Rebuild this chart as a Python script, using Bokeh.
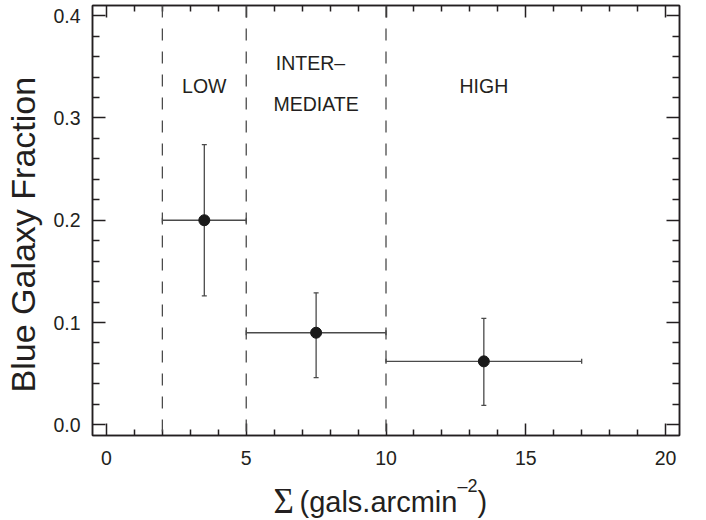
from bokeh.plotting import figure
from bokeh.layouts import column
from bokeh.models import (ColumnDataSource, FixedTicker, LinearAxis, Range1d,
                          Whisker, TeeHead, Label, Span)
from bokeh.core.properties import value
from bokeh.embed import file_html
from bokeh.resources import INLINE

# Surface-density bins (gals per arcmin^2) and the blue fraction in each
bin_lo = [2.0, 5.0, 10.0]
bin_hi = [5.0, 10.0, 17.0]
sigma_mid = [3.5, 7.5, 13.5]
blue_frac = [0.200, 0.090, 0.062]
frac_lo = [0.126, 0.046, 0.019]
frac_hi = [0.274, 0.129, 0.104]

# Boundaries between the density regimes
regime_edges = [2.0, 5.0, 10.0]

x_ticks = [0, 5, 10, 15, 20]
x_tick_labels = ["0", "5", "10", "15", "20"]
x_minor = [v for v in range(0, 21) if v % 5]
y_ticks = [0.0, 0.1, 0.2, 0.3, 0.4]
y_tick_labels = ["0.0", "0.1", "0.2", "0.3", "0.4"]
y_minor = [round(0.02 * k, 2) for k in range(0, 21) if k % 5]

FONT = "Liberation Sans"
INK = "#231f20"
BAR = "#4a4a4a"
W = 706
LEFT, RIGHT = 92, 27

src = ColumnDataSource(dict(x=sigma_mid, y=blue_frac, xlo=bin_lo, xhi=bin_hi,
                            ylo=frac_lo, yhi=frac_hi))

p = figure(width=W, height=475, output_backend="svg", toolbar_location=None,
           x_range=Range1d(-0.5, 20.5), y_range=Range1d(-0.0105, 0.41),
           min_border_left=LEFT, min_border_right=RIGHT, min_border_top=5,
           min_border_bottom=40, x_axis_type=None, y_axis_type=None)
p.grid.visible = False
p.outline_line_color = INK
p.outline_line_width = 1.5
p.border_fill_color = "white"


def style_axis(ax, major_in, minor_in, show_labels):
    ax.axis_line_color = INK
    ax.axis_line_width = 1.5
    ax.major_tick_line_color = INK
    ax.minor_tick_line_color = INK
    ax.major_tick_line_width = 1.5
    ax.minor_tick_line_width = 1.5
    ax.major_tick_in = major_in
    ax.major_tick_out = 0
    ax.minor_tick_in = minor_in
    ax.minor_tick_out = 0
    if show_labels:
        ax.major_label_text_font = FONT
        ax.major_label_text_font_size = "19.5px"
        ax.major_label_text_color = INK
    else:
        # mirrored axis: ticks only
        ax.major_label_text_color = None
        ax.major_label_text_font_size = "1px"
        ax.major_label_standoff = 0


xb = LinearAxis(ticker=FixedTicker(ticks=x_ticks, minor_ticks=x_minor),
                major_label_overrides=dict(zip(x_ticks, x_tick_labels)),
                major_label_standoff=15)
style_axis(xb, 12, 6, True)
p.add_layout(xb, "below")

xt = LinearAxis(ticker=FixedTicker(ticks=x_ticks, minor_ticks=x_minor))
style_axis(xt, 12, 6, False)
p.add_layout(xt, "above")

# trailing no-break spaces nudge the centred title slightly downwards
yl = LinearAxis(ticker=FixedTicker(ticks=y_ticks, minor_ticks=y_minor),
                major_label_overrides=dict(zip(y_ticks, y_tick_labels)),
                major_label_standoff=12,
                axis_label="Blue Galaxy Fraction\u00a0\u00a0\u00a0",
                axis_label_text_font=FONT,
                axis_label_text_font_size="34px",
                axis_label_text_font_style="normal",
                axis_label_text_color=INK,
                axis_label_standoff=8)
style_axis(yl, 13, 7, True)
p.add_layout(yl, "left")

yr = LinearAxis(ticker=FixedTicker(ticks=y_ticks, minor_ticks=y_minor))
style_axis(yr, 13, 7, False)
p.add_layout(yr, "right")

# Dashed regime boundaries
for edge in regime_edges:
    p.add_layout(Span(location=edge, dimension="height", line_color=BAR,
                      line_width=1.3, line_dash="12 11"))

# Error bars: bin width horizontally, uncertainty vertically
head = dict(size=5, line_color=BAR, line_width=1.3)
p.add_layout(Whisker(source=src, base="x", lower="ylo", upper="yhi",
                     dimension="height", line_color=BAR, line_width=1.3,
                     upper_head=TeeHead(**head), lower_head=TeeHead(**head),
                     level="underlay"))
p.add_layout(Whisker(source=src, base="y", lower="xlo", upper="xhi",
                     dimension="width", line_color=BAR, line_width=1.3,
                     upper_head=TeeHead(**head), lower_head=TeeHead(**head),
                     level="underlay"))

p.scatter("x", "y", source=src, size=11, fill_color="#1a1a1a",
          line_color="#1a1a1a")

# Regime names
lab = dict(text_font=FONT, text_font_size="19.5px", text_color=INK,
           text_align="center", text_baseline="middle")
p.add_layout(Label(x=3.5, y=0.3314, text="LOW", **lab))
p.add_layout(Label(x=7.3, y=0.3538, text="INTER\u2013", **lab))
p.add_layout(Label(x=7.5, y=0.3138, text="MEDIATE", **lab))
p.add_layout(Label(x=13.5, y=0.3314, text="HIGH", **lab))

# x-axis title strip (its frame lines up with the plot frame above;
# coordinates are page pixels)
cap = figure(width=W, height=45, output_backend="svg", toolbar_location=None,
             x_range=Range1d(LEFT, W - RIGHT), y_range=Range1d(45, 0),
             min_border_left=LEFT, min_border_right=RIGHT, min_border_top=0,
             min_border_bottom=0, x_axis_type=None, y_axis_type=None)
cap.grid.visible = False
cap.outline_line_color = None
cap.border_fill_color = "white"
cap.text(x=[273], y=[26], text=["\u03a3"], text_font=value("Liberation Serif"),
         text_font_size=value("35px"), text_color=INK, text_baseline="alphabetic")
cap.text(x=[299, 477], y=[26, 26], text=["(gals.arcmin", ")"],
         text_font=value(FONT), text_font_size=value("29px"), text_color=INK,
         text_baseline="alphabetic")
cap.text(x=[457], y=[10], text=["\u20132"], text_font=value(FONT),
         text_font_size=value("18px"), text_color=INK, text_baseline="alphabetic")

open("out.html", "w").write(file_html(column(p, cap, spacing=0), INLINE))
